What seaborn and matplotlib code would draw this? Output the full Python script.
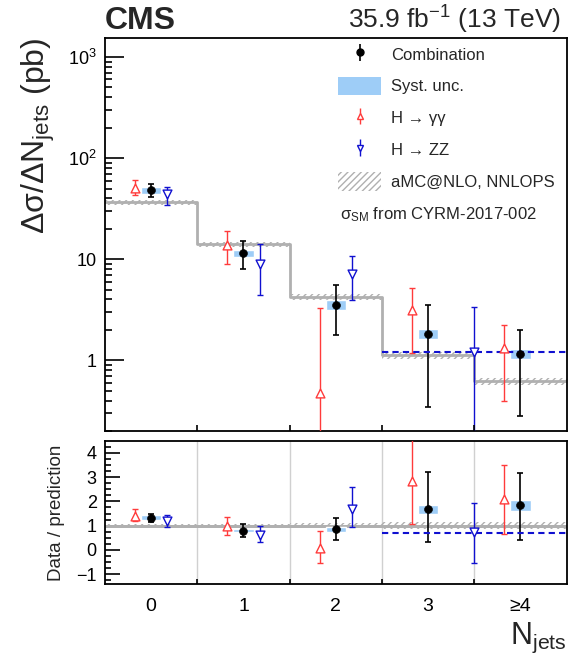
import numpy as np
import seaborn as sns
import matplotlib.pyplot as plt
from matplotlib.patches import Patch
from matplotlib.ticker import FixedLocator

sns.set_style('ticks')
plt.rcParams['font.family'] = ['Liberation Sans', 'DejaVu Sans']
plt.rcParams['mathtext.fontset'] = 'custom'
plt.rcParams['mathtext.rm'] = 'Liberation Sans'
plt.rcParams['mathtext.it'] = 'Liberation Sans'
plt.rcParams['hatch.linewidth'] = 1.0
plt.rcParams.update({
    'xtick.direction': 'in', 'ytick.direction': 'in',
    'xtick.color': 'black', 'ytick.color': 'black',
})

# bins
bins = [0, 1, 2, 3, 4]
bin_labels = ['0', '1', '2', '3', '\u22654']

# upper panel: cross sections (pb)
comb = [48.2, 11.4, 3.54, 1.84, 1.16]
comb_hi = [54.9, 15.1, 5.5, 3.54, 2.0]
comb_lo = [41.5, 8.0, 1.78, 0.346, 0.279]
syst_hi = [51.6, 12.2, 3.99, 2.06, 1.30]
syst_lo = [44.4, 10.6, 3.13, 1.61, 1.03]
gg = [50.9, 13.8, 0.475, 3.13, 1.33]
gg_hi = [60.2, 19.1, 3.27, 5.2, 2.24]
gg_lo = [43.0, 9.0, 0.05, 1.18, 0.396]
zz_bins = [0, 1, 2, 3.5]          # last one is the merged >=3 bin
zz = [43.7, 8.9, 7.2, 1.22]
zz_hi = [51.6, 14.2, 10.7, 3.35]
zz_lo = [34.0, 4.4, 3.96, 0.05]
pred = [36.5, 14.1, 4.2, 1.12, 0.62]
pred_unc = [0.06, 0.06, 0.07, 0.09, 0.09]

# lower panel: data / prediction
r_comb = [1.32, 0.80, 0.85, 1.68, 1.85]
r_comb_hi = [1.50, 1.07, 1.32, 3.21, 3.15]
r_comb_lo = [1.15, 0.55, 0.43, 0.32, 0.43]
r_syst_hi = [1.43, 0.86, 0.94, 1.87, 2.04]
r_syst_lo = [1.22, 0.73, 0.73, 1.47, 1.61]
r_gg = [1.39, 0.98, 0.07, 2.85, 2.10]
r_gg_hi = [1.67, 1.36, 0.78, 4.8, 3.51]
r_gg_lo = [1.18, 0.62, -0.54, 1.05, 0.64]
r_zz = [1.18, 0.62, 1.68, 0.73]
r_zz_hi = [1.43, 1.00, 2.58, 1.94]
r_zz_lo = [0.94, 0.32, 0.94, -0.54]
r_unc = [0.09, 0.09, 0.1, 0.14, 0.14]

RED = '#ff3b3b'
BLUE = '#1010d0'
SYST = '#9ecdf7'
GREY = '#b0b0b0'
off = 0.175

fig = plt.figure(figsize=(5.68, 6.6), dpi=100)
ax = fig.add_axes([105/568, 1-431/660, 461.5/568, 393/660])
rax = fig.add_axes([105/568, 1-584/660, 461.5/568, 143.3/660])

bins = np.array(bins)
edges = np.append(bins - 0.5, bins[-1] + 0.5)
zzx = np.array([b + off if float(b).is_integer() else b for b in zz_bins])


def draw(a, c, c_lo, c_hi, s_lo, s_hi, g, g_lo, g_hi, z, z_lo, z_hi, ref, unc, zline):
    c, g, z = np.array(c), np.array(g), np.array(z)
    ref = np.array(ref)
    unc = np.array(unc)
    lo = np.append(ref * (1 - unc), ref[-1] * (1 - unc[-1]))
    hi = np.append(ref * (1 + unc), ref[-1] * (1 + unc[-1]))
    a.fill_between(edges, lo, hi, step='post', facecolor='none', edgecolor=GREY,
                   hatch='/////', linewidth=0, zorder=1)
    a.step(edges, np.append(ref, ref[-1]), where='post', color=GREY, lw=2, zorder=1)
    a.bar(bins, np.array(s_hi) - np.array(s_lo), bottom=s_lo, width=0.22,
          color=SYST, zorder=2)
    a.errorbar(bins, c, yerr=[c - np.array(c_lo), np.array(c_hi) - c], fmt='none',
               ecolor='black', elinewidth=1.2, capsize=2.2, capthick=1.2, zorder=3)
    a.errorbar(bins - off, g, yerr=[g - np.array(g_lo), np.array(g_hi) - g], fmt='none',
               ecolor=RED, elinewidth=1.0, capsize=2.2, capthick=1.0, zorder=3)
    a.errorbar(zzx, z, yerr=[z - np.array(z_lo), np.array(z_hi) - z], fmt='none',
               ecolor=BLUE, elinewidth=1.0, capsize=2.2, capthick=1.0, zorder=3)
    a.hlines(zline, 2.5, 4.5, colors=BLUE, linestyles=(0, (3, 2)), lw=1.5, zorder=3)
    sns.scatterplot(x=bins, y=c, ax=a, marker='o', s=32, color='black',
                    edgecolor='black', zorder=5, legend=False)
    sns.scatterplot(x=bins - off, y=g, ax=a, marker='^', s=40, facecolor='white',
                    edgecolor=RED, linewidth=1.0, zorder=5, legend=False)
    sns.scatterplot(x=zzx, y=z, ax=a, marker='v', s=40, facecolor='white',
                    edgecolor=BLUE, linewidth=1.0, zorder=5, legend=False)


def short_ticks(a, axis, positions, frac):
    # small inward tick marks, length given as axes fraction
    if axis == 'y':
        for p in positions:
            a.plot([0, frac], [p, p], transform=a.get_yaxis_transform(), color='black',
                   lw=1.2, clip_on=False, zorder=6, solid_capstyle='butt')
    else:
        for p in positions:
            a.plot([p, p], [0, frac], transform=a.get_xaxis_transform(), color='black',
                   lw=1.2, clip_on=False, zorder=6, solid_capstyle='butt')


draw(ax, comb, comb_lo, comb_hi, syst_lo, syst_hi, gg, gg_lo, gg_hi,
     zz, zz_lo, zz_hi, pred, pred_unc, zz[-1])
ax.set_yscale('log')
ax.set_xlim(-0.5, 4.5)
ax.set_ylim(0.2, 1540)
ax.yaxis.set_major_locator(FixedLocator([1, 10, 100, 1000]))
ax.yaxis.set_minor_locator(FixedLocator([]))
ax.set_yticklabels(['1', '10', r'10$^{2}$', r'10$^{3}$'])
ax.xaxis.set_major_locator(FixedLocator([]))
ax.xaxis.set_minor_locator(FixedLocator([]))
ax.tick_params(axis='y', which='major', length=14, width=1.2, labelsize=13, pad=6)
ax.set_ylabel('\u0394\u03c3/\u0394N$_{\\mathrm{jets}}$ (pb)', fontsize=23, loc='top', labelpad=8)
log_minor = [k * 10.0 ** d for d in range(-1, 4) for k in range(2, 10)]
short_ticks(ax, 'y', [v for v in log_minor if 0.2 <= v <= 1540], 7 / 461.5)
short_ticks(ax, 'x', edges[1:-1], 6 / 393)

# lower panel
rax.axhline(1, color=GREY, lw=2, zorder=1)
for e in edges[1:-1]:
    rax.axvline(e, color='#d0d0d0', lw=1, zorder=0)
draw(rax, r_comb, r_comb_lo, r_comb_hi, r_syst_lo, r_syst_hi, r_gg, r_gg_lo, r_gg_hi,
     r_zz, r_zz_lo, r_zz_hi, np.ones(5), r_unc, r_zz[-1] - 0.04)
rax.set_xlim(-0.5, 4.5)
rax.set_ylim(-1.4, 4.5)
rax.xaxis.set_major_locator(FixedLocator(bins))
rax.xaxis.set_minor_locator(FixedLocator([]))
rax.set_xticklabels(bin_labels)
rax.tick_params(axis='x', which='major', length=0, labelsize=14, pad=10)
rax.yaxis.set_major_locator(FixedLocator([-1, 0, 1, 2, 3, 4]))
rax.yaxis.set_minor_locator(FixedLocator([]))
rax.set_yticklabels(['\u22121', '0', '1', '2', '3', '4'])
rax.tick_params(axis='y', which='major', length=11, width=1.2, labelsize=13, pad=6)
rax.set_ylim(-1.4, 4.5)
short_ticks(rax, 'y', [v for v in np.arange(-1.25, 4.5, 0.25) if abs(v - round(v)) > 0.01],
            6 / 461.5)
short_ticks(rax, 'x', edges[1:-1], 5 / 143.3)
rax.set_ylabel('Data / prediction', fontsize=13.5, labelpad=8)
rax.set_xlabel(r'N$_{\mathrm{jets}}$', fontsize=22, loc='right', labelpad=4)

for a in (ax, rax):
    for sp in a.spines.values():
        sp.set_linewidth(1.3)
        sp.set_color('black')

# legend
h_comb = ax.errorbar([np.nan], [np.nan], yerr=[1], fmt='o', color='black', ms=5, elinewidth=1.2)
h_gg = ax.errorbar([np.nan], [np.nan], yerr=[1], fmt='^', color=RED, mfc='white', ms=5, elinewidth=1.0)
h_zz = ax.errorbar([np.nan], [np.nan], yerr=[1], fmt='v', color=BLUE, mfc='white', ms=5, elinewidth=1.0)
h_syst = Patch(facecolor=SYST, edgecolor='none')
h_pred = Patch(facecolor='none', edgecolor=GREY, hatch='/////', linewidth=0)
fig.legend([h_comb, h_syst, h_gg, h_zz, h_pred],
           ['Combination', 'Syst. unc.', 'H \u2192 \u03b3\u03b3', 'H \u2192 ZZ',
            'aMC@NLO, NNLOPS'],
           loc='upper left', bbox_to_anchor=(338/568, 1-45/660), frameon=False,
           fontsize=12, handlelength=2.6, handleheight=1.3, labelspacing=0.82,
           handletextpad=0.6, borderpad=0, borderaxespad=0)
fig.text(340/568, 1-215/660, '\u03c3$_{\\mathrm{SM}}$ from CYRM-2017-002', fontsize=12, va='center')

fig.text(105/568, 1-29/660, 'CMS', fontsize=23, fontweight='bold', va='baseline')
fig.text(561/568, 1-29/660, r'35.9 fb$^{-1}$ (13 TeV)', fontsize=19, ha='right', va='baseline')

fig.savefig('out.png', dpi=100)
